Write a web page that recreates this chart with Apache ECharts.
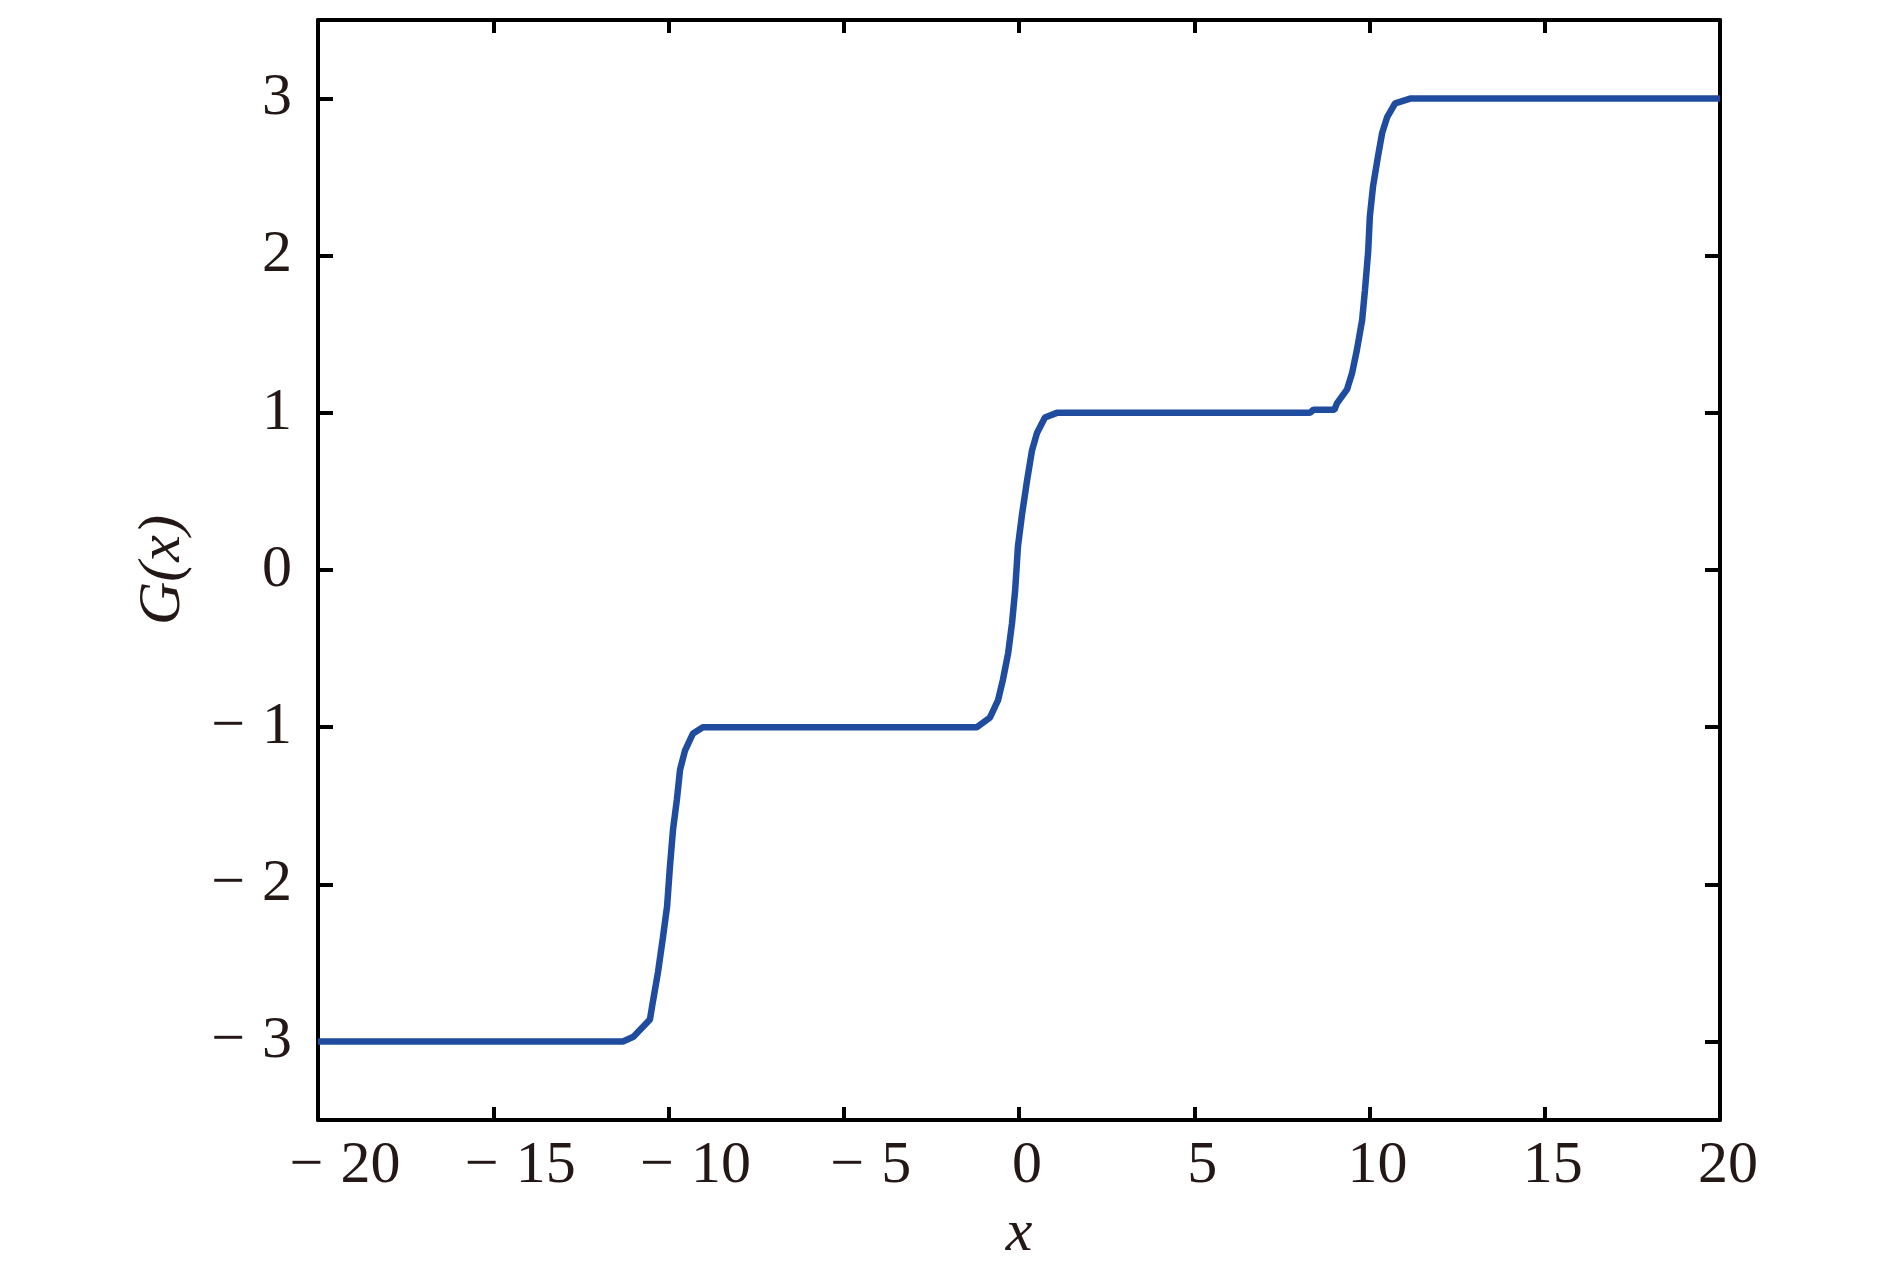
<!DOCTYPE html>
<html>
<head>
<meta charset="utf-8">
<script src="https://cdn.jsdelivr.net/npm/echarts@6/dist/echarts.min.js"></script>
<style>
html,body{margin:0;padding:0;background:#fff;}
#chart{width:1890px;height:1276px;}
</style>
</head>
<body>
<div id="chart"></div>
<script>
// Data
const xValues = [-20, -15, -11.3, -11.0, -10.53, -10.44, -10.30, -10.16, -10.04, -9.96, -9.87, -9.76, -9.67, -9.53, -9.30, -9.02, -8.5,
  -5, -1.2, -0.83, -0.60, -0.46, -0.31, -0.20, -0.11, -0.03, 0.09, 0.23, 0.37, 0.51, 0.74, 1.08,
  5, 8.3, 8.4, 9.0, 9.07, 9.36, 9.50, 9.64, 9.79, 9.87, 9.96, 10.01, 10.10, 10.24, 10.36, 10.50, 10.73, 11.16, 15, 20];
const gValues = [-3, -3, -3, -2.97, -2.86, -2.74, -2.56, -2.34, -2.14, -1.89, -1.65, -1.46, -1.27, -1.15, -1.04, -1.0, -1.0,
  -1, -1, -0.94, -0.83, -0.70, -0.53, -0.34, -0.13, 0.15, 0.36, 0.57, 0.76, 0.87, 0.97, 1.0,
  1, 1, 1.02, 1.02, 1.06, 1.15, 1.25, 1.40, 1.59, 1.78, 2.02, 2.25, 2.44, 2.63, 2.78, 2.88, 2.97, 3.0, 3, 3];
const xTicks = [-20, -15, -10, -5, 0, 5, 10, 15, 20];
const yTicks = [-3, -2, -1, 0, 1, 2, 3];

const points = xValues.map((x, i) => [x, gValues[i]]);
const textColor = '#231815';
const fontFamily = '"Liberation Serif", "DejaVu Serif", serif';
const negText = v => '\u2212\u2009\u200A' + Math.abs(v);
const fmtY = v => (v < 0 ? negText(v) : String(v));
const fmtX = v => (v < 0 ? '{neg|' + negText(v) + '}' : '{pos|' + v + '}');
const labelFont = {color: textColor, fontFamily: fontFamily, fontSize: 60};

const chart = echarts.init(document.getElementById('chart'), null, {renderer: 'canvas'});
const axisLine = {show: true, onZero: false, lineStyle: {color: '#000', width: 4}};
chart.setOption({
  backgroundColor: '#fff',
  animation: false,
  grid: {left: 318, top: 20, width: 1402, height: 1100, containLabel: false},
  xAxis: [{
    type: 'value', min: -20, max: 20, interval: 5, position: 'bottom',
    axisLine: axisLine,
    axisTick: {show: true, inside: true, length: 13, lineStyle: {color: '#000', width: 4}},
    splitLine: {show: false},
    axisLabel: Object.assign({margin: 16, formatter: fmtX,
      rich: {
        neg: Object.assign({padding: [0, 0, 0, 54]}, labelFont),
        pos: Object.assign({padding: [0, 0, 0, 16]}, labelFont)
      }}, labelFont),
    name: 'x', nameLocation: 'middle', nameGap: 84,
    nameTextStyle: {color: textColor, fontFamily: fontFamily, fontSize: 60, fontStyle: 'italic'}
  }, {
    type: 'value', min: -20, max: 20, interval: 5, position: 'top',
    axisLine: axisLine,
    axisTick: {show: true, inside: true, length: 13, lineStyle: {color: '#000', width: 4}},
    axisLabel: {show: false}, splitLine: {show: false}
  }],
  yAxis: [{
    type: 'value', min: -3.5, max: 3.5, position: 'left',
    axisLine: axisLine,
    axisTick: {show: true, inside: true, length: 15, customValues: yTicks, lineStyle: {color: '#000', width: 4}},
    axisLabel: Object.assign({margin: 26, customValues: yTicks, formatter: fmtY}, labelFont),
    splitLine: {show: false},
    name: 'G(x)', nameLocation: 'middle', nameGap: 125, nameRotate: 90,
    nameTextStyle: {color: textColor, fontFamily: fontFamily, fontSize: 60, fontStyle: 'italic'}
  }, {
    type: 'value', min: -3.5, max: 3.5, position: 'right',
    axisLine: axisLine,
    axisTick: {show: true, inside: true, length: 15, customValues: yTicks, lineStyle: {color: '#000', width: 4}},
    axisLabel: {show: false}, splitLine: {show: false}
  }],
  series: [{
    type: 'line', xAxisIndex: 0, yAxisIndex: 0, data: points,
    showSymbol: false, smooth: false,
    lineStyle: {color: '#1f4c9e', width: 6.5},
    clip: true
  }]
});
</script>
</body>
</html>
